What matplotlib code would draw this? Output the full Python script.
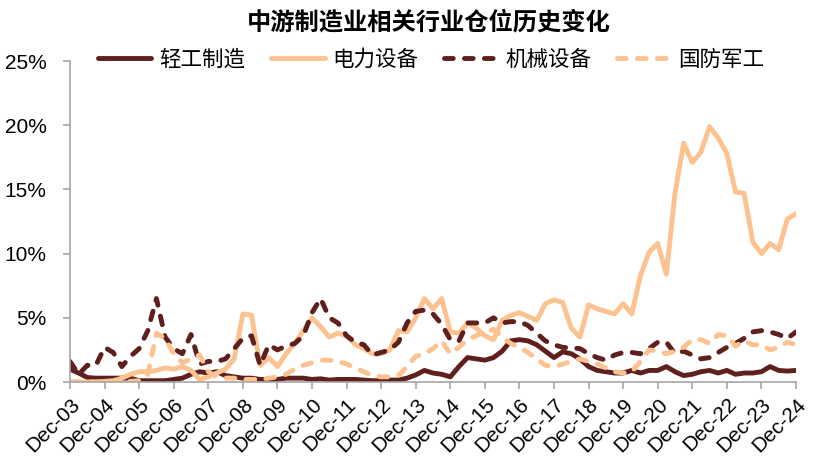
import matplotlib
matplotlib.use("Agg")
import matplotlib.pyplot as plt
import numpy as np

years = [f"Dec-{y:02d}" for y in range(3, 25)]

light_industry = [1.0, 0.7, 0.35, 0.3, 0.3, 0.3, 0.3, 0.3, 0.1, 0.1, 0.1, 0.1, 0.2, 0.3, 0.6, 0.8,
                  0.7, 0.8, 0.5, 0.4, 0.3, 0.3, 0.2, 0.2, 0.2, 0.3, 0.3, 0.3, 0.2, 0.25, 0.15, 0.2,
                  0.2, 0.2, 0.15, 0.1, 0.1, 0.15, 0.15, 0.3, 0.55, 0.9, 0.7, 0.6, 0.4, 1.2, 1.9, 1.8,
                  1.7, 1.9, 2.4, 3.2, 3.3, 3.2, 2.9, 2.4, 1.9, 2.35, 2.2, 1.8, 1.2, 0.9, 0.8, 0.7,
                  0.7, 0.9, 0.7, 0.9, 0.9, 1.2, 0.8, 0.5, 0.6, 0.8, 0.9, 0.7, 0.9, 0.6, 0.7, 0.7,
                  0.8, 1.2, 0.9, 0.85, 0.9]

power_equipment = [0.0, 0.0, 0.0, 0.0, 0.05, 0.1, 0.3, 0.6, 0.8, 0.8, 0.9, 1.1, 1.0, 1.2, 0.9, 0.2,
                   0.4, 0.7, 1.0, 1.8, 5.3, 5.2, 1.3, 1.9, 1.2, 2.2, 3.0, 4.0, 5.0, 4.3, 3.5, 3.8,
                   3.6, 2.9, 2.6, 2.2, 2.2, 2.5, 4.0, 3.9, 5.0, 6.5, 5.7, 6.5, 3.9, 3.8, 4.6, 4.2,
                   3.6, 3.3, 4.8, 5.2, 5.4, 5.1, 4.8, 6.1, 6.4, 6.2, 4.2, 3.5, 6.0, 5.7, 5.5, 5.3,
                   6.1, 5.3, 8.3, 10.1, 10.8, 8.4, 14.7, 18.6, 17.1, 17.9, 19.9, 19.0, 17.8, 14.8,
                   14.7, 10.9, 10.0, 10.8, 10.3, 12.7, 13.1]

machinery = [1.6, 0.6, 1.3, 1.3, 2.7, 2.3, 1.2, 2.0, 2.6, 4.0, 6.5, 3.5, 2.6, 2.2, 3.7, 1.4,
             1.6, 1.6, 1.8, 2.6, 3.4, 3.6, 1.3, 2.9, 2.5, 2.8, 3.0, 3.6, 5.4, 6.5, 5.0, 4.6,
             3.6, 3.1, 2.9, 2.1, 2.3, 2.5, 3.1, 4.6, 5.5, 5.6, 5.3, 4.5, 3.3, 3.2, 4.6, 4.6,
             4.6, 5.0, 4.6, 4.7, 4.7, 4.4, 3.8, 3.2, 2.9, 2.7, 2.65, 2.6, 2.2, 1.9, 1.7, 2.1,
             2.3, 2.3, 2.2, 2.6, 3.1, 3.1, 2.2, 2.4, 2.1, 1.8, 1.9, 2.3, 2.7, 3.0, 3.4, 3.9,
             4.0, 3.9, 3.7, 3.4, 3.9]

defense = [0.0, 0.0, 0.0, 0.0, 0.0, 0.0, 0.0, 0.05, 0.1, 0.6, 3.8, 3.4, 2.2, 1.5, 1.8, 2.1,
           0.8, 0.4, 0.3, 0.3, 0.2, 0.2, 0.2, 0.3, 0.4, 0.6, 1.0, 1.3, 1.5, 1.7, 1.7, 1.6,
           1.4, 1.1, 0.8, 0.5, 0.4, 0.4, 0.5, 1.2, 2.0, 2.2, 2.6, 3.2, 2.2, 2.7, 3.3, 3.6,
           3.9, 4.1, 3.5, 3.0, 2.7, 2.3, 1.8, 1.3, 1.2, 1.4, 1.6, 1.8, 1.6, 1.4, 1.1, 0.8,
           0.7, 0.8, 1.6, 2.5, 2.4, 2.2, 2.4, 2.7, 3.3, 3.3, 3.0, 3.7, 3.6, 2.8, 3.2, 2.9,
           2.9, 2.5, 2.7, 3.1, 2.9]

series_names = ["轻工制造", "电力设备", "机械设备", "国防军工"]

DARK = "#5E1F1D"
LIGHT = "#FDC28F"

plt.rcParams['font.family'] = ['Liberation Sans', 'Noto Sans CJK SC', 'DejaVu Sans']

fig = plt.figure(figsize=(8.16, 4.71), dpi=100)
ax = fig.add_axes([70/816, 1-382/471, (796-70)/816, (382-61)/471])

x = np.arange(len(power_equipment))
lw = 3.5
dash = (1.8, 2.3)
ax.plot(x, light_industry, color=DARK, lw=lw, solid_capstyle='round', solid_joinstyle='round', label=series_names[0])
ax.plot(x, power_equipment, color=LIGHT, lw=lw, solid_capstyle='round', solid_joinstyle='round', label=series_names[1])
ax.plot(x, machinery, color=DARK, lw=lw, dashes=dash, dash_capstyle='round', label=series_names[2])
ax.plot(x, defense, color=LIGHT, lw=lw, dashes=dash, dash_capstyle='round', label=series_names[3])

ax.set_xlim(0, 84)
ax.set_ylim(0, 25)
ax.set_yticks([0, 5, 10, 15, 20, 25])
ax.set_yticklabels([f"{v}%" for v in [0, 5, 10, 15, 20, 25]], fontsize=15)
ax.set_xticks(np.arange(0, 85, 4))
ax.set_xticklabels(years, fontsize=15, rotation=45, ha='right', rotation_mode='anchor')

for s in ['top', 'right']:
    ax.spines[s].set_visible(False)
for s in ['left', 'bottom']:
    ax.spines[s].set_color('#A6A6A6')
    ax.spines[s].set_linewidth(1.2)
ax.tick_params(axis='both', colors='#A6A6A6', labelcolor='black', length=5, width=1.2, direction='out')
ax.tick_params(axis='x', pad=4)
ax.tick_params(axis='y', pad=12)

fig.text(0.526, 0.953, "中游制造业相关行业仓位历史变化", ha='center', va='center',
         fontsize=17.5, fontweight='bold', family=['Noto Sans CJK SC', 'DejaVu Sans'])

leg = ax.legend(loc='center', bbox_to_anchor=(431/816, 1-60/471), bbox_transform=fig.transFigure,
                ncol=4, frameon=False, prop={'family': 'Noto Sans CJK SC', 'size': 15.5},
                handlelength=2.5, handletextpad=0.35, columnspacing=1.2, borderpad=0, borderaxespad=0)

fig.savefig("out.png", dpi=100)
